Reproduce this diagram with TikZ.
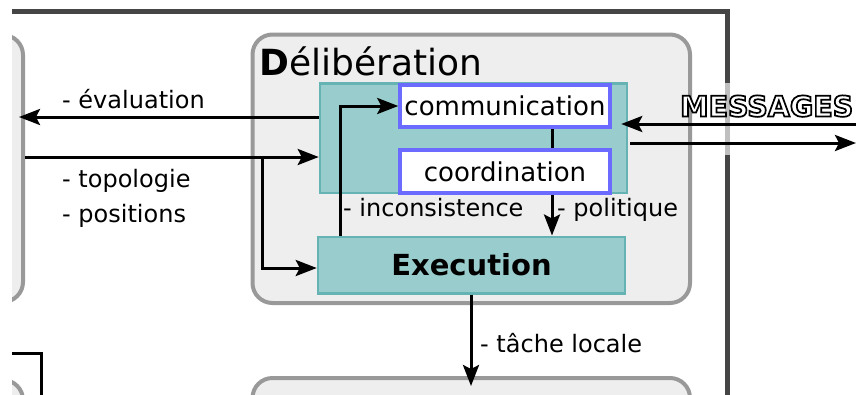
\documentclass[tikz,border=0pt]{standalone}
\usepackage{fontspec}
\setmainfont{DejaVu Sans}
\newfontfamily\msgfont{DejaVu Sans}[BoldFeatures={FakeBold=6}]
\usetikzlibrary{arrows.meta}
\definecolor{framedark}{HTML}{454545}
\definecolor{framelight}{HTML}{BFBFBF}
\definecolor{boxgray}{HTML}{999999}
\definecolor{boxfill}{HTML}{EEEEEE}
\definecolor{tealfill}{HTML}{99CCCC}
\definecolor{tealborder}{HTML}{66B3B3}
\definecolor{blueborder}{HTML}{6B6BFF}
\tikzset{
  graybox/.style={draw=boxgray, fill=boxfill, line width=4pt, rounded corners=20pt, inner sep=0pt},
  tealbox/.style={draw=tealborder, fill=tealfill, line width=2.5pt, inner sep=0pt},
  bluebox/.style={draw=blueborder, fill=white, line width=3.5pt, inner sep=0pt, font=\fontsize{26}{30}\selectfont},
  arr/.style={line width=3pt, -{Stealth[length=21pt,width=16pt,inset=4pt]}},
  conn/.style={line width=3pt, line join=miter},
  lbl/.style={font=\fontsize{24}{28}\selectfont, inner sep=0pt, anchor=base west}
}
\begin{document}
\begin{tikzpicture}[x=1pt,y=-1pt]
\useasboundingbox (0,0) rectangle (856,394);
\clip (12,0) rectangle (856,394);
% frame
\draw[framedark, line width=5pt, line join=miter] (-100,11) -- (727,11) -- (727,83);
\draw[framelight, line width=5pt] (727,83) -- (727,155);
\draw[framedark, line width=5pt] (727,155) -- (727,500);
% gray boxes
\node[graybox, minimum width=123pt, minimum height=267pt] (left) at (-38.5,168.5) {};
\node[graybox, minimum width=123pt, minimum height=250pt] (left2) at (-38.5,505) {};
\node[graybox, minimum width=437.5pt, minimum height=268.5pt] (delib) at (471.25,168.75) {};
\node[graybox, minimum width=437.5pt, minimum height=250pt] (bottom) at (471.25,503) {};
\node[inner sep=0pt, anchor=base west, font=\fontsize{36}{42}\selectfont] (title) at (259,75) {\textbf{D}élibération};
% inner boxes
\node[tealbox, minimum width=307pt, minimum height=109.5pt] (teal) at (473.5,138.25) {};
\node[bluebox, minimum width=210pt, minimum height=42pt] (comm) at (505,106) {communication};
\node[bluebox, minimum width=210pt, minimum height=43pt] (coord) at (505,171.5) {coordination};
\node[tealbox, minimum width=307pt, minimum height=56.5pt, font=\fontsize{29}{33}\selectfont\bfseries] (exe) at (471.5,265) {Execution};
% connectors inside
\coordinate (px) at (552,0);
\draw[conn] (comm.south -| px) -- (coord.north -| px);
\draw[arr] (coord.south -| px) -- (exe.north -| px);
\coordinate (qx) at (340,0);
\draw[arr] (exe.north -| qx) |- (comm.west);
% left connectors
\coordinate (ev) at (0,117);
\draw[arr, shorten >=-6pt] (teal.west |- ev) -- (left.east |- ev);
\coordinate (tp) at (0,157);
\draw[arr] (left.east |- tp) -- (teal.west |- tp);
\coordinate (bx) at (262,157);
\coordinate (ex) at (0,268);
\draw[arr] (bx) |- (exe.west |- ex);
% messages
\coordinate (rin) at (856,124);
\coordinate (rout) at (856,143);
\draw[arr, shorten >=-7pt] (rin) -- (teal.east |- rin);
\draw[arr, shorten <=2pt] (teal.east |- rout) -- (rout);
\node[inner sep=0pt, anchor=base west, font=\fontsize{28.5}{32}\selectfont] (msg) at (680,116.5) {\msgfont\bfseries\color{white}\special{pdf:literal direct 0 0 0 RG}MESSAGES};
% down
\coordinate (dx) at (471,0);
\draw[arr, shorten >=-10pt] (exe.south -| dx) -- (bottom.north -| dx);
% bottom-left line
\coordinate (bl1) at (-50,353);
\coordinate (bl2) at (41.5,353);
\coordinate (bl3) at (41.5,450);
\draw[conn] (bl1) -- (bl2) -- (bl3);
% labels
\node[lbl] (l1) at (62,108) {- évaluation};
\node[lbl] (l2) at (62,187) {- topologie};
\node[lbl] (l3) at (62,222) {- positions};
\node[lbl] (l4) at (343,216) {- inconsistence};
\node[lbl] (l5) at (557,216) {- politique};
\node[lbl] (l6) at (480,352) {- tâche locale};
\end{tikzpicture}
\end{document}
